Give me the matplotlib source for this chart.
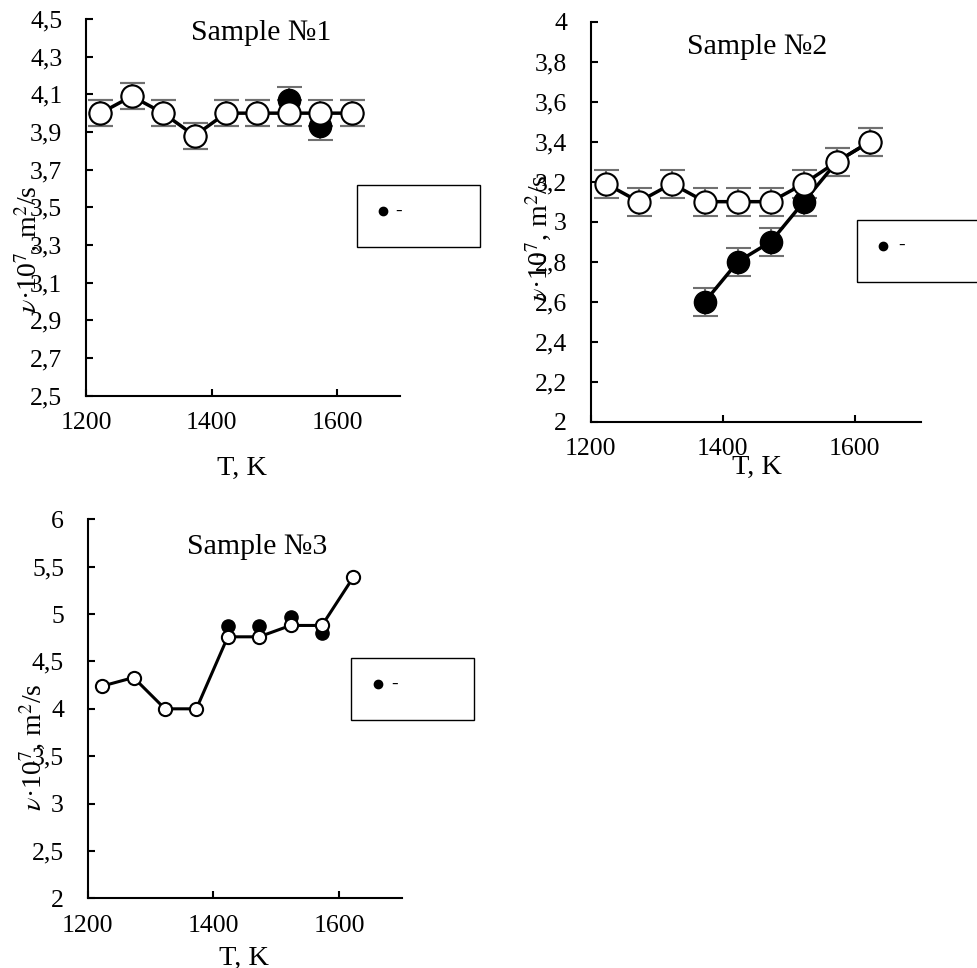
import matplotlib
matplotlib.use('Agg')
import matplotlib.pyplot as plt
from matplotlib.patches import Rectangle
from matplotlib.lines import Line2D
from matplotlib.ticker import FuncFormatter

plt.rcParams['font.family'] = ['Liberation Serif', 'DejaVu Serif']
plt.rcParams['mathtext.fontset'] = 'stix'
plt.rcParams['xtick.direction'] = 'in'
plt.rcParams['ytick.direction'] = 'in'

# temperatures, K
T = [1223, 1273, 1323, 1373, 1423, 1473, 1523, 1573, 1623]

# Sample 1
s1_open = [4.00, 4.09, 4.00, 3.88, 4.00, 4.00, 4.00, 4.00, 4.00]
s1_fill = [4.00, 4.09, 4.00, 3.88, 4.00, 4.00, 4.07, 3.93, 4.00]
s1_err = 0.07
s1_yticks = [2.5, 2.7, 2.9, 3.1, 3.3, 3.5, 3.7, 3.9, 4.1, 4.3, 4.5]

# Sample 2
s2_open = [3.19, 3.10, 3.19, 3.10, 3.10, 3.10, 3.19, 3.30, 3.40]
s2_T_fill = [1373, 1423, 1473, 1523, 1573, 1623]
s2_fill = [2.60, 2.80, 2.90, 3.10, 3.30, 3.40]
s2_err = 0.07
s2_yticks = [2, 2.2, 2.4, 2.6, 2.8, 3, 3.2, 3.4, 3.6, 3.8, 4]

# Sample 3
s3_open = [4.24, 4.33, 4.00, 4.00, 4.76, 4.76, 4.88, 4.88, 5.39]
s3_T_fill = [1423, 1473, 1523, 1573]
s3_fill = [4.87, 4.87, 4.97, 4.80]
s3_yticks = [2, 2.5, 3, 3.5, 4, 4.5, 5, 5.5, 6]

xticks = [1200, 1400, 1600]
ylabel = r'$\nu$·10$^{7}$, m$^{2}$/s'

fig = plt.figure(figsize=(9.77, 9.68), dpi=100)
ax1 = fig.add_axes([0.0880, 0.5912, 0.3214, 0.3892])
ax2 = fig.add_axes([0.6046, 0.5644, 0.3378, 0.4132])
ax3 = fig.add_axes([0.0898, 0.0720, 0.3214, 0.3915])

comma = FuncFormatter(lambda v, p: ('%g' % round(v, 2)).replace('.', ','))


def style(ax, yticks, title, tx, ty):
    ax.spines['top'].set_visible(False)
    ax.spines['right'].set_visible(False)
    ax.spines['left'].set_linewidth(1.5)
    ax.spines['bottom'].set_linewidth(1.5)
    ax.set_xlim(1200, 1700)
    ax.set_ylim(yticks[0], yticks[-1])
    ax.set_xticks(xticks)
    ax.set_yticks(yticks)
    ax.yaxis.set_major_formatter(comma)
    ax.tick_params(axis='both', labelsize=18.5, length=5, width=1.5)
    ax.tick_params(axis='x', pad=12)
    ax.tick_params(axis='y', pad=17)
    ax.text(tx, ty, title, transform=ax.transAxes, fontsize=21.5,
            ha='center', va='center')


# --- Sample 1
ax1.errorbar(T, s1_fill, yerr=s1_err, fmt='none', ecolor='#707070',
             elinewidth=1.5, capsize=9, capthick=1.5, zorder=1)
ax1.errorbar(T, s1_open, yerr=s1_err, fmt='none', ecolor='#707070',
             elinewidth=1.5, capsize=9, capthick=1.5, zorder=1)
ax1.plot(T, s1_fill, 'o', ms=16, color='black', zorder=2)
ax1.plot(T, s1_open, '-o', lw=2.5, color='black', ms=16, mfc='white',
         mec='black', mew=1.5, zorder=3)
style(ax1, s1_yticks, 'Sample №1', 0.557, 0.962)

# --- Sample 2
ax2.errorbar(s2_T_fill, s2_fill, yerr=s2_err, fmt='none', ecolor='#707070',
             elinewidth=1.5, capsize=9, capthick=1.5, zorder=1)
ax2.errorbar(T, s2_open, yerr=s2_err, fmt='none', ecolor='#707070',
             elinewidth=1.5, capsize=9, capthick=1.5, zorder=1)
ax2.plot(s2_T_fill, s2_fill, '-o', lw=2.5, ms=16, color='black', zorder=2)
ax2.plot(T, s2_open, '-o', lw=2.5, color='black', ms=16, mfc='white',
         mec='black', mew=1.5, zorder=3)
style(ax2, s2_yticks, 'Sample №2', 0.505, 0.936)

# --- Sample 3
ax3.plot(s3_T_fill, s3_fill, 'o', ms=9.5, color='black', zorder=2)
ax3.plot(T, s3_open, '-o', lw=2.2, color='black', ms=9.5, mfc='white',
         mec='black', mew=1.5, zorder=3)
style(ax3, s3_yticks, 'Sample №3', 0.541, 0.928)

# axis titles
for x, y in [(0.0287, 0.7428), (0.5517, 0.7536), (0.0338, 0.2283)]:
    fig.text(x, y, ylabel, rotation=90, fontsize=20, ha='center', va='center')
for x, y in [(0.2474, 0.5165), (0.7748, 0.5175), (0.2497, 0.010)]:
    fig.text(x, y, 'T, K', fontsize=20.5, ha='center', va='center')

# legend boxes (only the filled marker entry with "-")
for bx, by, bw, bh, dx, dy, tx in [(0.3651, 0.7451, 0.1262, 0.0634, 0.3920, 0.7820, 0.4080),
                                   (0.8769, 0.7090, 0.1400, 0.0637, 0.9038, 0.7462, 0.9229),
                                   (0.3593, 0.2562, 0.1259, 0.0637, 0.3866, 0.2931, 0.4043)]:
    fig.add_artist(Rectangle((bx, by), bw, bh, transform=fig.transFigure,
                             fill=False, ec='black', lw=1))
    fig.add_artist(Line2D([dx], [dy], marker='o', ms=6, color='black',
                          transform=fig.transFigure))
    fig.text(tx, dy, '-', fontsize=14, ha='center', va='center')

plt.savefig('out.png', dpi=100)
